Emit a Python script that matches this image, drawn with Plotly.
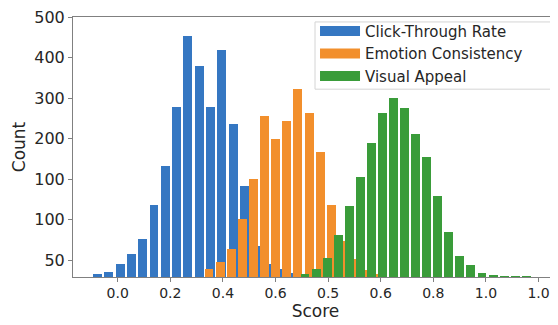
import plotly.graph_objects as go

# ---------------- data ----------------
series_names = ["Click-Through Rate", "Emotion Consistency", "Visual Appeal"]

ctr_bins = [-0.078, -0.035, 0.009, 0.052, 0.095, 0.138, 0.181, 0.224, 0.267,
            0.310, 0.353, 0.396, 0.440, 0.483, 0.526, 0.569, 0.612, 0.655]
ctr_counts = [8, 12, 32, 58, 93, 177, 273, 421, 594, 521, 421, 561, 379, 225,
              77, 32, 20, 9]

emo_bins = [0.347, 0.389, 0.432, 0.474, 0.516, 0.559, 0.601, 0.643, 0.685,
            0.728, 0.770, 0.812, 0.855, 0.897, 0.939, 0.982]
emo_counts = [20, 36, 70, 142, 242, 397, 340, 386, 464, 405, 309, 178, 90,
              44, 18, 8]

vis_bins = [0.712, 0.754, 0.796, 0.838, 0.880, 0.922, 0.964, 1.006, 1.048,
            1.090, 1.133, 1.175, 1.217, 1.259, 1.301, 1.343, 1.385, 1.427,
            1.469, 1.511, 1.553]
vis_counts = [7, 20, 48, 104, 176, 246, 331, 404, 443, 418, 352, 296, 200,
              112, 51, 30, 10, 6, 2, 2, 1.5]

x_tick_labels = ["0.0", "0.2", "0.4", "0.6", "0.5", "0.6", "0.8", "1.0", "1.0"]
y_tick_labels = ["50", "100", "100", "200", "300", "400", "500"]

# ---------------- styling / layout ----------------
colors = ["#3577c2", "#f28f2c", "#3a9c3a"]
BAR_WIDTH = 0.034
FONT = "DejaVu Sans"
AXIS_GRAY = "#808080"
TEXT = "#262626"

x_tick_pos = [0.2 * i for i in range(len(x_tick_labels))]
y_tick_pos = [41.5 + 100 * i for i in range(len(y_tick_labels))]

fig = go.Figure()
for name, bins, counts, col in zip(series_names,
                                   [ctr_bins, emo_bins, vis_bins],
                                   [ctr_counts, emo_counts, vis_counts],
                                   colors):
    fig.add_trace(go.Bar(x=bins, y=counts, width=BAR_WIDTH, name=name,
                         marker=dict(color=col, line=dict(width=0)),
                         showlegend=False))

# legend proxies (wide rectangles like the reference legend)
for name, col in zip(series_names, colors):
    fig.add_trace(go.Scatter(x=[None], y=[None], mode="lines", name=name,
                             line=dict(color=col, width=10)))

# The page body has an 8px default margin, so the figure is made 8px smaller
# and its margins reduced by 8px to keep the plot area where the reference has it.
fig.update_layout(
    width=550, height=317,
    margin=dict(l=65, r=0, t=6, b=48),
    paper_bgcolor="white", plot_bgcolor="white",
    barmode="overlay", bargap=0,
    font=dict(family=FONT, color=TEXT),
    legend=dict(x=0.499, xanchor="left", y=1.009, yanchor="top",
                font=dict(family=FONT, size=15, color=TEXT),
                bgcolor="rgba(0,0,0,0)", borderwidth=0,
                itemwidth=40, tracegroupgap=0),
    shapes=[dict(type="rect", xref="paper", yref="paper",
                 x0=0.499, x1=0.9938, y0=0.7224, y1=0.981,
                 line=dict(color="#d4d4d4", width=1),
                 fillcolor="rgba(255,255,255,0.85)", layer="above")],
)

fig.update_xaxes(
    range=[-0.170, 1.674],
    tickvals=x_tick_pos, ticktext=x_tick_labels,
    showgrid=False, zeroline=False,
    showline=True, linecolor=AXIS_GRAY, linewidth=1, mirror=True,
    ticks="outside", ticklen=3.5, tickcolor=AXIS_GRAY,
    tickfont=dict(family=FONT, size=14, color=TEXT),
    title=dict(text="Score", font=dict(family=FONT, size=17, color=TEXT),
               standoff=0),
)
fig.update_yaxes(
    range=[0, 642],
    tickvals=y_tick_pos, ticktext=y_tick_labels,
    ticklabeloverflow="allow",
    showgrid=False, zeroline=False,
    showline=True, linecolor=AXIS_GRAY, linewidth=1, mirror=False,
    ticks="outside", ticklen=4, tickcolor=AXIS_GRAY,
    tickfont=dict(family=FONT, size=16, color=TEXT),
    title=dict(text="Count", font=dict(family=FONT, size=17, color=TEXT),
               standoff=4),
)

fig.write_html("out.html")
